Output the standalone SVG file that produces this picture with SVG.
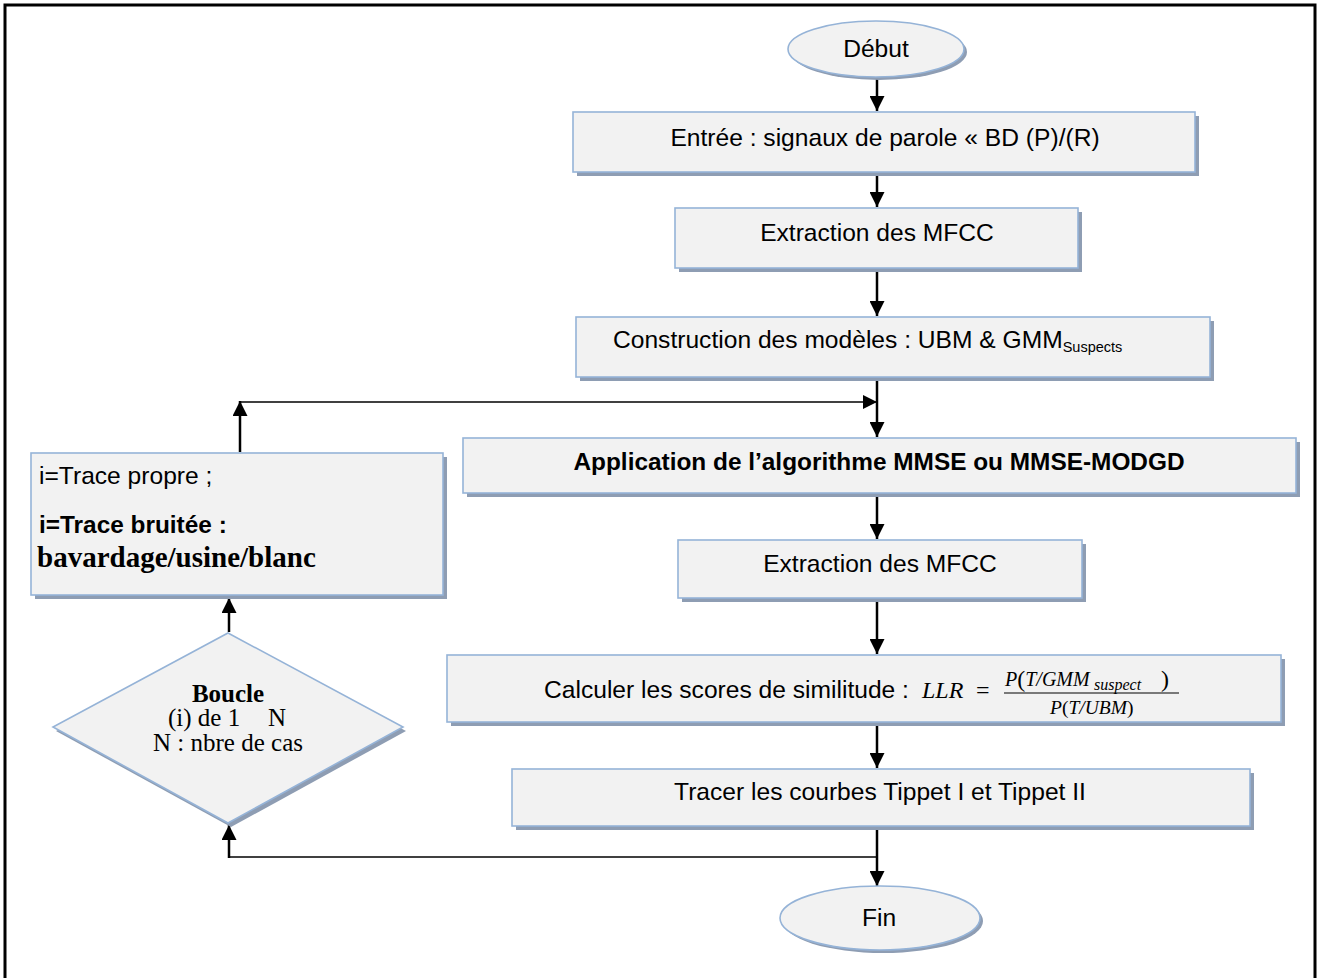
<svg xmlns="http://www.w3.org/2000/svg" width="1320" height="978" viewBox="0 0 1320 978">
<defs>
<style>
.box{fill:#f2f2f2;stroke:#95b3d7;stroke-width:1.6}
.sh{fill:#8e9db3}
.t{font-family:"Liberation Sans",Arial,sans-serif;font-size:24.6px;fill:#000}
.tb{font-family:"Liberation Sans",Arial,sans-serif;font-size:24.4px;font-weight:bold;fill:#000}
.ser{font-family:"Liberation Serif","Times New Roman",serif;fill:#000}
.m{font-family:"Liberation Serif","Times New Roman",serif;font-style:italic;fill:#000}
.ln{fill:none;stroke:#000;stroke-width:2.5}
.thin{fill:none;stroke:#000;stroke-width:1.6}
</style>
<marker id="ah" viewBox="0 0 10 10" refX="10" refY="5" markerWidth="6" markerHeight="6" markerUnits="strokeWidth" orient="auto">
<path d="M0,0 L10,5 L0,10 Z" fill="#000"/>
</marker>
<marker id="ah2" viewBox="0 0 10 10" refX="10" refY="5" markerWidth="9" markerHeight="9" markerUnits="strokeWidth" orient="auto">
<path d="M0,0 L10,5 L0,10 Z" fill="#000"/>
</marker>
</defs>
<rect x="0" y="0" width="1320" height="978" fill="#fff"/>
<rect x="5" y="5" width="1310" height="990" fill="none" stroke="#000" stroke-width="3"/>

<g id="connectors">
<line class="ln" x1="877" y1="77" x2="877" y2="111" marker-end="url(#ah)"/>
<line class="ln" x1="877" y1="175" x2="877" y2="207" marker-end="url(#ah)"/>
<line class="ln" x1="877" y1="271" x2="877" y2="316" marker-end="url(#ah)"/>
<line class="ln" x1="877" y1="380" x2="877" y2="437" marker-end="url(#ah)"/>
<line class="ln" x1="877" y1="496" x2="877" y2="539" marker-end="url(#ah)"/>
<line class="ln" x1="877" y1="601" x2="877" y2="654" marker-end="url(#ah)"/>
<line class="ln" x1="877" y1="725" x2="877" y2="768" marker-end="url(#ah)"/>
<line class="ln" x1="877" y1="829" x2="877" y2="886" marker-end="url(#ah)"/>
<line class="ln" x1="240" y1="452" x2="240" y2="401" marker-end="url(#ah)"/>
<line class="thin" x1="240" y1="402" x2="877" y2="402" marker-end="url(#ah2)"/>
<line class="ln" x1="229" y1="632" x2="229" y2="598" marker-end="url(#ah)"/>
<line class="thin" x1="877" y1="857" x2="229" y2="857"/>
<line class="ln" x1="229" y1="858" x2="229" y2="825" marker-end="url(#ah)"/>
</g>

<g id="debut">
<ellipse class="sh" cx="879" cy="52" rx="88" ry="28"/>
<ellipse class="box" cx="876" cy="49" rx="88" ry="28"/>
<text class="t" x="876" y="57" text-anchor="middle">Début</text>
</g>

<g id="entree">
<rect class="sh" x="577" y="116" width="622" height="60"/>
<rect class="box" x="573" y="112" width="622" height="60"/>
<text class="t" x="885" y="146" text-anchor="middle" font-size="24.8">Entrée : signaux de parole « BD (P)/(R)</text>
</g>

<g id="extraction1">
<rect class="sh" x="679" y="212" width="403" height="60"/>
<rect class="box" x="675" y="208" width="403" height="60"/>
<text class="t" x="877" y="241" text-anchor="middle">Extraction des MFCC</text>
</g>

<g id="construction">
<rect class="sh" x="580" y="321" width="634" height="60"/>
<rect class="box" x="576" y="317" width="634" height="60"/>
<text class="t" x="613" y="348">Construction des modèles : UBM &amp; GMM<tspan font-size="14.5" dy="4">Suspects</tspan></text>
</g>

<g id="application">
<rect class="sh" x="467" y="442" width="833" height="55"/>
<rect class="box" x="463" y="438" width="833" height="55"/>
<text class="tb" x="879" y="470" text-anchor="middle">Application de l’algorithme MMSE ou MMSE-MODGD</text>
</g>

<g id="extraction2">
<rect class="sh" x="682" y="544" width="404" height="58"/>
<rect class="box" x="678" y="540" width="404" height="58"/>
<text class="t" x="880" y="572" text-anchor="middle">Extraction des MFCC</text>
</g>

<g id="calculer">
<rect class="sh" x="451" y="659" width="834" height="67"/>
<rect class="box" x="447" y="655" width="834" height="67"/>
<text class="t" x="544" y="698" font-size="25.2">Calculer les scores de similitude : </text>
<text class="m" x="922" y="698" font-size="24">LLR</text>
<text class="ser" x="976" y="698" font-size="24">=</text>
<text class="m" font-size="20"><tspan x="1005" y="686">P</tspan><tspan font-style="normal" font-size="24" y="687">(</tspan><tspan y="686">T/GMM</tspan><tspan font-size="16" x="1094" y="690">suspect</tspan><tspan font-style="normal" font-size="24" x="1161" y="687">)</tspan></text>
<line x1="1004" y1="693" x2="1179" y2="693" stroke="#000" stroke-width="1"/>
<text class="m" font-size="19.5"><tspan x="1050" y="714">P</tspan><tspan font-style="normal">(</tspan><tspan>T/UBM</tspan><tspan font-style="normal">)</tspan></text>
</g>

<g id="tracer">
<rect class="sh" x="516" y="773" width="738" height="57"/>
<rect class="box" x="512" y="769" width="738" height="57"/>
<text class="t" x="880" y="800" text-anchor="middle" font-size="25.2">Tracer les courbes Tippet I et Tippet II</text>
</g>

<g id="fin">
<ellipse class="sh" cx="883" cy="921" rx="100" ry="32"/>
<ellipse class="box" cx="880" cy="918" rx="100" ry="32"/>
<text class="t" x="879" y="926" text-anchor="middle">Fin</text>
</g>

<g id="cas">
<rect class="sh" x="35" y="457" width="412" height="142"/>
<rect class="box" x="31" y="453" width="412" height="142"/>
<text class="t" x="39" y="484" font-size="19.5">i=Trace propre ;</text>
<text class="tb" x="39" y="533" font-size="24.5">i=Trace bruitée :</text>
<text class="ser" x="37" y="567" font-size="29" font-weight="bold">bavardage/usine/blanc</text>
</g>

<g id="boucle">
<polygon class="sh" points="231,637 406,731 231,827 56,731"/>
<polygon class="box" points="228,633 403,727 228,823 53,727"/>
<text class="ser" x="228" y="702" font-size="25" font-weight="bold" text-anchor="middle">Boucle</text>
<text class="ser" font-size="25"><tspan x="168" y="726">(i) de 1</tspan><tspan x="268" y="726">N</tspan></text>
<text class="ser" x="228" y="751" font-size="25" text-anchor="middle">N : nbre de cas</text>
</g>
</svg>
